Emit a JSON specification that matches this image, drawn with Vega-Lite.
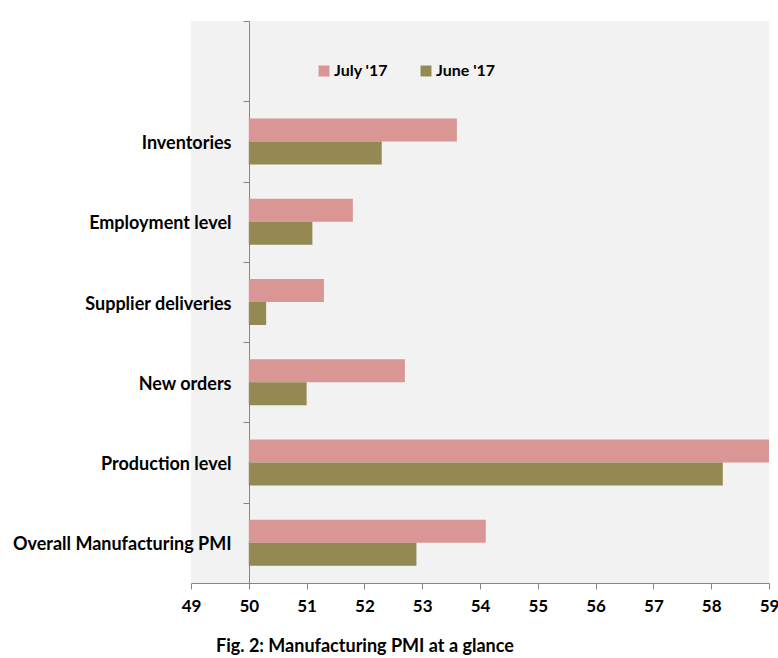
{
  "$schema": "https://vega.github.io/schema/vega-lite/v6.json",
  "width": 578,
  "height": 562,
  "autosize": {"type": "none"},
  "padding": {"left": 191, "top": 21, "right": 9, "bottom": 75},
  "background": "white",
  "config": {
    "view": {"fill": "#f2f2f2", "stroke": null},
    "font": "Lato"
  },
  "title": {
    "text": "Fig. 2: Manufacturing PMI at a glance",
    "orient": "bottom",
    "anchor": "start",
    "frame": "group",
    "dx": 25,
    "offset": 24,
    "font": "Lato",
    "fontSize": 18,
    "fontWeight": "bold",
    "color": "#000000"
  },
  "data": {
    "values": [
      {"indicator": "Inventories", "period": "July '17", "value": 53.6},
      {"indicator": "Inventories", "period": "June '17", "value": 52.3},
      {"indicator": "Employment level", "period": "July '17", "value": 51.8},
      {"indicator": "Employment level", "period": "June '17", "value": 51.1},
      {"indicator": "Supplier deliveries", "period": "July '17", "value": 51.3},
      {"indicator": "Supplier deliveries", "period": "June '17", "value": 50.3},
      {"indicator": "New orders", "period": "July '17", "value": 52.7},
      {"indicator": "New orders", "period": "June '17", "value": 51.0},
      {"indicator": "Production level", "period": "July '17", "value": 59.0},
      {"indicator": "Production level", "period": "June '17", "value": 58.2},
      {"indicator": "Overall Manufacturing PMI", "period": "July '17", "value": 54.1},
      {"indicator": "Overall Manufacturing PMI", "period": "June '17", "value": 52.9}
    ]
  },
  "mark": {"type": "bar"},
  "encoding": {
    "y": {
      "field": "indicator",
      "type": "nominal",
      "scale": {
        "domain": [" ", "Inventories", "Employment level", "Supplier deliveries", "New orders", "Production level", "Overall Manufacturing PMI"],
        "paddingInner": 0,
        "paddingOuter": 0
      },
      "axis": {
        "title": null,
        "offset": -58,
        "tickBand": "extent",
        "tickSize": 6,
        "tickColor": "#868686",
        "domainColor": "#868686",
        "labelPadding": 12,
        "labelOffset": 2,
        "labelLimit": 400,
        "labelFont": "Lato",
        "labelFontSize": 18,
        "labelFontWeight": "bold",
        "labelColor": "#000000",
        "grid": false
      }
    },
    "yOffset": {
      "field": "period",
      "type": "nominal",
      "sort": ["July '17", "June '17"],
      "scale": {"paddingInner": 0, "paddingOuter": 0.745}
    },
    "x": {
      "field": "value",
      "type": "quantitative",
      "scale": {"domain": [49, 59], "nice": false, "zero": false},
      "axis": {
        "title": null,
        "grid": false,
        "values": [49, 50, 51, 52, 53, 54, 55, 56, 57, 58, 59],
        "tickSize": 6,
        "tickColor": "#868686",
        "domainColor": "#868686",
        "labelPadding": 9,
        "labelFont": "Lato",
        "labelFontSize": 17,
        "labelFontWeight": "bold",
        "labelColor": "#000000",
        "labelFlush": false,
        "format": "d"
      }
    },
    "x2": {"datum": 50},
    "color": {
      "field": "period",
      "type": "nominal",
      "scale": {"domain": ["July '17", "June '17"], "range": ["#d99694", "#938953"]},
      "legend": {
        "title": null,
        "orient": "none",
        "direction": "horizontal",
        "legendX": 125,
        "legendY": 42,
        "symbolType": "square",
        "symbolSize": 120,
        "symbolStrokeWidth": 0,
        "labelFont": "Lato",
        "labelFontSize": 16,
        "labelFontWeight": "bold",
        "labelColor": "#000000",
        "columnPadding": 30,
        "labelOffset": 2
      }
    }
  }
}
